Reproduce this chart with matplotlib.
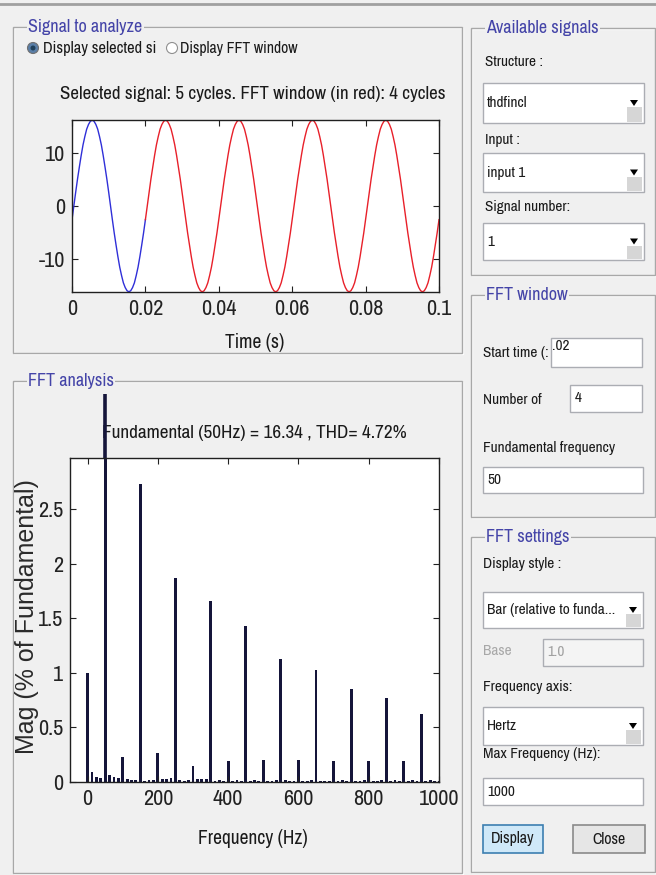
import numpy as np
import matplotlib
matplotlib.use('Agg')
import matplotlib.pyplot as plt
from matplotlib import font_manager
from matplotlib.patches import Rectangle, Circle, Polygon

W, H = 656, 875

# ---- values ----
# one cycle of the analysed 50 Hz signal, one sample every 0.5 ms
cycle_values = [-2.6, 0.0, 2.6, 5.1, 7.4, 9.6, 11.6, 13.2, 14.6, 15.5,
                16.1, 16.3, 16.1, 15.5, 14.6, 13.2, 11.6, 9.6, 7.4, 5.1,
                2.6, 0.0, -2.6, -5.1, -7.4, -9.6, -11.6, -13.2, -14.6, -15.5,
                -16.1, -16.3, -16.1, -15.5, -14.6, -13.2, -11.6, -9.6, -7.4, -5.1]
n_cycles = 5
sample_step = 0.0005
fft_start_cycle = 1

time_ticks = [0, 0.02, 0.04, 0.06, 0.08, 0.1]
time_ticklabels = ['0', '0.02', '0.04', '0.06', '0.08', '0.1']
signal_yticks = [-10, 0, 10]

# FFT spectrum, 12.5 Hz resolution (4 cycles), % of fundamental
freq_step = 12.5
spectrum = [1.00, 0.09, 0.05, 0.04,
            100.0, 0.06, 0.05, 0.04,
            0.23, 0.03, 0.02, 0.02,
            2.73, 0.01, 0.02, 0.02,
            0.27, 0.03, 0.03, 0.04,
            1.87, 0.02, 0.01, 0.02,
            0.15, 0.03, 0.03, 0.03,
            1.66, 0.01, 0.02, 0.01,
            0.19, 0.01, 0.02, 0.01,
            1.43, 0.01, 0.02, 0.01,
            0.20, 0.01, 0.01, 0.02,
            1.13, 0.02, 0.01, 0.01,
            0.20, 0.01, 0.01, 0.02,
            1.03, 0.01, 0.01, 0.01,
            0.19, 0.01, 0.02, 0.01,
            0.85, 0.01, 0.01, 0.02,
            0.19, 0.01, 0.01, 0.02,
            0.77, 0.01, 0.02, 0.01,
            0.19, 0.01, 0.02, 0.01,
            0.62, 0.01, 0.02, 0.01,
            0.01]
freq_ticks = [0, 200, 400, 600, 800, 1000]
mag_ticks = [0, 0.5, 1, 1.5, 2, 2.5]
mag_ticklabels = ['0', '0.5', '1', '1.5', '2', '2.5']

# ---- look ----
BG = '#f0f0f0'
TITLE_C = '#4444a8'
TXT = '#1a1a1a'
BAR_C = '#15153a'

names = {f.name for f in font_manager.fontManager.ttflist}
NARROW = 'Archivo Narrow' if 'Archivo Narrow' in names else 'Liberation Sans'
plt.rcParams['font.family'] = [NARROW, 'DejaVu Sans']
plt.rcParams['axes.unicode_minus'] = False

fig = plt.figure(figsize=(W / 100, H / 100), dpi=100, facecolor=BG)
gui = fig.add_axes([0, 0, 1, 1])
gui.set_xlim(0, W)
gui.set_ylim(H, 0)
gui.axis('off')


def px_axes(x0, y0, x1, y1):
    return fig.add_axes([x0 / W, 1 - y1 / H, (x1 - x0) / W, (y1 - y0) / H])


def panel(x0, y0, x1, y1, title):
    gui.add_patch(Rectangle((x0 + 1, y0 + 1), x1 - x0, y1 - y0, fill=False, ec='white', lw=1))
    gui.add_patch(Rectangle((x0, y0), x1 - x0, y1 - y0, fill=False, ec='#a8a8a8', lw=1))
    gui.text(x0 + 15, y0, title, color=TITLE_C, fontsize=13, va='center', ha='left',
             bbox=dict(fc=BG, ec='none', pad=1))


def label(x, y, s, size=11, color=TXT, ha='left'):
    gui.text(x, y, s, fontsize=size, color=color, va='center', ha=ha)


def edit_box(x0, y0, x1, y1, s, fc='white', color=TXT, tx=None, ty=None):
    gui.add_patch(Rectangle((x0, y0), x1 - x0, y1 - y0, fc=fc, ec='#abadb3', lw=1))
    label(x0 + 4 if tx is None else tx, (y0 + y1) / 2 if ty is None else ty, s, color=color)


def dropdown(x0, y0, x1, y1, s):
    gui.add_patch(Rectangle((x0, y0), x1 - x0, y1 - y0, fc='white', ec='#abadb3', lw=1))
    ym = (y0 + y1) / 2
    gui.add_patch(Rectangle((x1 - 17, ym + 4), 15, y1 - ym - 5, fc='#d6d6d6', ec='none'))
    gui.add_patch(Polygon([[x1 - 14, ym - 3], [x1 - 6, ym - 3], [x1 - 10, ym + 3]], fc='black', ec='none'))
    label(x0 + 4, ym, s)


def button(x0, y0, x1, y1, s, fc, ec):
    gui.add_patch(Rectangle((x0, y0), x1 - x0, y1 - y0, fc=fc, ec=ec, lw=1.2))
    label((x0 + x1) / 2, (y0 + y1) / 2, s, size=11.5, ha='center')


# window frame line
gui.plot([0, W], [4, 4], color='#a0a0a0', lw=2)

# ---- left panels ----
panel(13, 27, 462, 353, 'Signal to analyze')
gui.add_patch(Circle((33, 48), 5.5, fc='#5a7fa8', ec='#707070', lw=0.8))
gui.add_patch(Circle((33, 48), 2.5, fc='#20405a', ec='none'))
label(43, 48, 'Display selected si', size=11.8)
gui.add_patch(Circle((172, 48), 5.5, fc='white', ec='#909090', lw=0.8))
label(180, 48, 'Display FFT window', size=11.3)
label(253, 94, 'Selected signal: 5 cycles. FFT window (in red): 4 cycles', size=13.7, ha='center')
label(255, 343, 'Time (s)', size=14, ha='center')

panel(13, 381, 462, 873, 'FFT analysis')
label(254, 433, 'Fundamental (50Hz) = 16.34 , THD= 4.72%', size=13.8, ha='center')
gui.text(27, 617, 'Mag (% of Fundamental)', rotation=90, fontsize=18, color='#2a2a2a',
         family='Liberation Sans', ha='center', va='center')
label(253, 838, 'Frequency (Hz)', size=14, ha='center')

# ---- right panels ----
panel(471, 28, 655, 275, 'Available signals')
label(485, 62, 'Structure :')
dropdown(483, 83, 644, 123, 'thdfincl')
label(485, 140, 'Input :')
dropdown(483, 153, 644, 192, 'input 1')
label(485, 207, 'Signal number:')
dropdown(483, 223, 644, 260, '1')

panel(471, 295, 655, 517, 'FFT window')
label(483, 353, 'Start time (:')
edit_box(551, 338, 642, 367, '.02', ty=346, tx=552)
label(483, 400, 'Number of')
edit_box(570, 385, 642, 412, '4', tx=575)
label(483, 448, 'Fundamental frequency')
edit_box(483, 467, 643, 493, '50')

panel(471, 537, 655, 872, 'FFT settings')
label(483, 564, 'Display style :')
dropdown(483, 592, 643, 628, 'Bar (relative to funda...')
label(483, 651, 'Base', color='#a8a8a8')
edit_box(543, 639, 643, 666, '1.0', fc='#f4f4f4', color='#a0a0a0')
label(483, 687, 'Frequency axis:')
dropdown(483, 707, 643, 745, 'Hertz')
label(483, 754, 'Max Frequency (Hz):')
edit_box(483, 778, 643, 805, '1000')
button(483, 825, 543, 853, 'Display', '#cfe8f8', '#3c7fb1')
button(573, 825, 645, 853, 'Close', '#e6e6e6', '#8a8a8a')

# ---- signal plot ----
signal = np.append(np.tile(cycle_values, n_cycles), cycle_values[0])
t = np.arange(len(signal)) * sample_step
split = fft_start_cycle * len(cycle_values)

ax1 = px_axes(72, 120, 439, 292)
ax1.plot(t[:split + 1], signal[:split + 1], color='#2f2fd8', lw=1)
ax1.plot(t[split:], signal[split:], color='#e8202a', lw=1)
ax1.set_xlim(0, 0.1)
ax1.set_ylim(-16.34, 16.34)
ax1.set_xticks(time_ticks)
ax1.set_xticklabels(time_ticklabels)
ax1.set_yticks(signal_yticks)

# ---- spectrum plot ----
freqs = np.arange(len(spectrum)) * freq_step
ax2 = px_axes(70, 458, 439, 782)
ax2.bar(freqs, spectrum, width=8, color=BAR_C, linewidth=0)
ax2.set_xlim(-50, 1000)
ax2.set_ylim(0, 2.97)
# MATLAB draws the fundamental bar beyond the axes box
fund_overflow_top = 3.56
ax2.vlines(freqs[int(np.argmax(spectrum))], 2.97, fund_overflow_top, color=BAR_C,
           lw=2.6, clip_on=False)
ax2.set_xticks(freq_ticks)
ax2.set_yticks(mag_ticks)
ax2.set_yticklabels(mag_ticklabels)

for ax in (ax1, ax2):
    ax.set_facecolor('white')
    ax.tick_params(direction='in', top=True, right=True, length=4, width=0.8,
                   labelsize=16, colors='#222222', pad=5)
    for s in ax.spines.values():
        s.set_linewidth(1)
        s.set_color('#202020')

fig.savefig('out.png', dpi=100, facecolor=BG)
